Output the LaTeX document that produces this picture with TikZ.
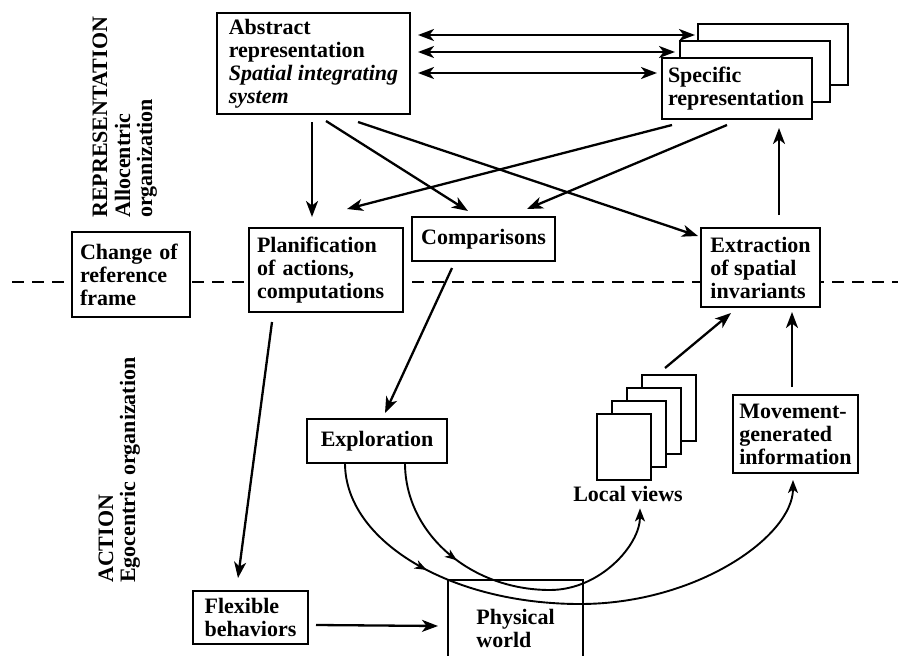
\documentclass[tikz,border=0pt]{standalone}
\usepackage{fontspec}
\setmainfont{Liberation Serif}
\usetikzlibrary{arrows.meta,calc,decorations.markings}
\tikzset{
 txt/.style={font=\fontsize{22}{23}\selectfont\bfseries},
 box/.style={txt, draw, line width=2.6pt, fill=white, align=left, inner xsep=0pt, inner ysep=0pt, outer sep=0pt, anchor=north west},
 card/.style={draw, line width=2.4pt, fill=white, inner sep=0pt, outer sep=0pt, anchor=north west, minimum width=54pt, minimum height=66pt},
 arr/.style={line width=2.3pt, -{Stealth[length=16pt,width=12pt,inset=4.5pt]}},
 dbl/.style={line width=2.3pt, {Stealth[length=16pt,width=12pt,inset=4.5pt]}-{Stealth[length=16pt,width=12pt,inset=4.5pt]}},
 curve/.style={line width=1.9pt, -{Stealth[length=13pt,width=10pt,inset=3.5pt]}},
 midarr/.style={postaction={decorate}, decoration={markings, mark=at position #1 with {\arrow{Stealth[length=12pt,width=9pt,inset=3.5pt]}}}},
 sidelabel/.style={txt, rotate=90, anchor=base west, inner sep=0pt},
}
\begin{document}
\begin{tikzpicture}[x=1pt,y=-1pt]
\useasboundingbox[fill=white] (0,0) rectangle (898,656);

% separator
\draw[line width=2.2pt, dash pattern=on 12pt off 8pt] (12,282) -- (898,282);

% side labels
\node[sidelabel] (rep) at (107,218) {REPRESENTATION};
\node[sidelabel] (allo) at (130,218) {Allocentric};
\node[sidelabel] (org1) at (152,218) {organization};
\node[sidelabel] (act) at (113,583) {ACTION};
\node[sidelabel] (ego) at (135,583) {Egocentric organization};

% boxes
\node[box, minimum width=193pt, minimum height=101pt] (abs) at (217,13)
  {Abstract\\representation\\\textit{Spatial integrating}\\\textit{system}};
\node[box, minimum width=150pt, minimum height=61pt] (spec3) at (698,24) {};
\node[box, minimum width=150pt, minimum height=61pt] (spec2) at (680,41) {};
\node[box, minimum width=150pt, minimum height=61pt, text width=138pt] (spec1) at (662,58)
  {Specific\\representation};
\node[box, minimum width=118pt, minimum height=85pt, text width=102pt] (chg) at (72,232)
  {Change of\\reference\\frame};
\node[box, minimum width=154pt, minimum height=84pt, text width=138pt] (plan) at (249,228)
  {Planification\\of actions,\\computations};
\node[box, minimum width=143pt, minimum height=44pt] (comp) at (412,217) {Comparisons};
\node[box, minimum width=119pt, minimum height=79pt] (ext) at (701,228)
  {Extraction\\of spatial\\invariants};
\node[box, minimum width=140pt, minimum height=44pt] (expl) at (307,419) {Exploration};
\node[box, minimum width=115pt, minimum height=53pt] (flex) at (193,591) {Flexible\\behaviors};
\node[box, line width=2pt, minimum width=135pt, minimum height=96pt] (phys) at (448,580) {Physical\\world};
\node[box, minimum width=125pt, minimum height=78pt] (mov) at (733,395)
  {Movement-\\generated\\information};

% local views
\node[card] (lv4) at (642,375) {};
\node[card] (lv3) at (627,388) {};
\node[card] (lv2) at (612,401) {};
\node[card] (lv1) at (597,414) {};
\node[txt, inner sep=0pt, anchor=base] (lvl) at (628,501) {Local views};

% connectors
\draw[dbl] ($(abs.north east)+(8,22)$) -- ($(spec3.north west)+(-3,11)$);
\draw[dbl] ($(abs.north east)+(8,39)$) -- ($(spec2.north west)+(-5,11)$);
\draw[dbl] ($(abs.north east)+(8,60)$) -- ($(spec1.north west)+(-5,15)$);

\draw[arr] ($(abs.south west)+(95,8)$) -- ($(plan.north west)+(63,-11)$);
\draw[arr] ($(abs.south west)+(109,7)$) -- ($(comp.north west)+(56,-6)$);
\draw[arr] ($(abs.south west)+(141,8)$) -- ($(ext.north west)+(-3,8)$);
\draw[arr] ($(spec1.south west)+(10,6)$) -- ($(plan.north west)+(98,-19)$);
\draw[arr] ($(spec1.south west)+(65,6)$) -- ($(comp.north west)+(115,-8)$);
\draw[arr] ($(ext.north west)+(78,-13)$) -- ($(spec1.south west)+(117,9)$);
\draw[arr] ($(comp.south west)+(40,7)$) -- ($(expl.north west)+(78,-6)$);
\draw[arr] ($(plan.south west)+(23,10)$) -- ($(flex.north west)+(45,-13)$);
\draw[arr] ($(lv4.north west)+(23,-7)$) -- ($(ext.south west)+(30,6)$);
\draw[arr] ($(mov.north west)+(59,-8)$) -- ($(ext.south west)+(91,5)$);
\draw[arr] ($(flex.north east)+(8,34)$) -- ($(phys.north west)+(-10,46)$);

\draw[curve, midarr=0.25] ($(expl.south west)+(38,0)$) .. controls (345,541) and (450,604) .. (580,604)
  .. controls (697,604) and (793,536) .. ($(mov.south west)+(60,7)$);
\draw[curve, midarr=0.33] ($(expl.south west)+(98,0)$) .. controls (405,533) and (470,590) .. (550,590)
  .. controls (600,590) and (640,545) .. ($(lvl.south)+(12,7)$);
\end{tikzpicture}
\end{document}
